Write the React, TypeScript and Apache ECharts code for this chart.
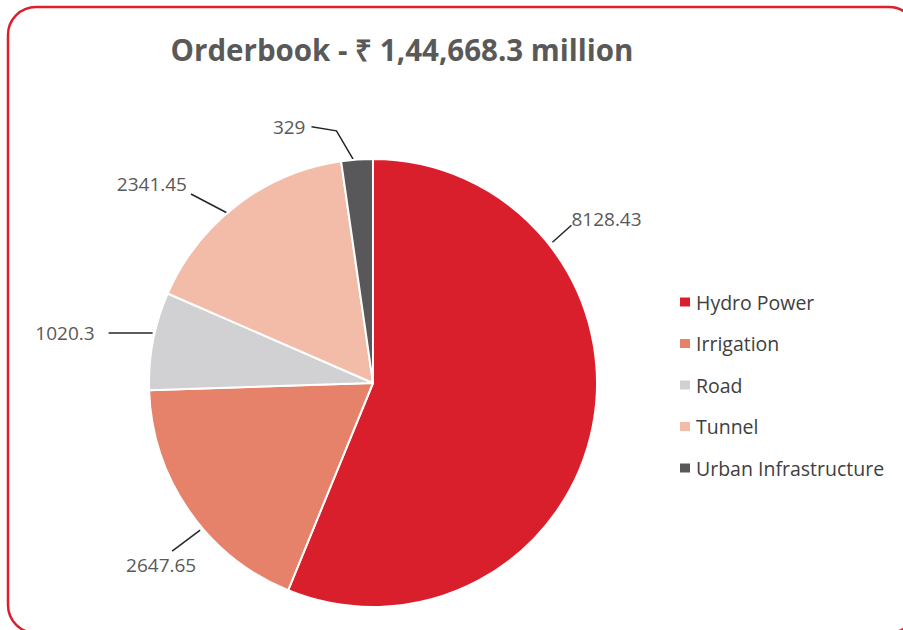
import React, { useEffect, useRef } from 'react';
import * as echarts from 'echarts';

const categories = ['Hydro Power', 'Irrigation', 'Road', 'Tunnel', 'Urban Infrastructure'];
const values = [8128.43, 2647.65, 1020.3, 2341.45, 329];
const colors = ['#da1f2c', '#e6816a', '#d1d1d3', '#f2bca9', '#58585a'];
const titleText = 'Orderbook - ₹ 1,44,668.3 million';

const CENTER = [373, 383];
const RADIUS = 224;
// label anchor angle (deg, clockwise from top), start radius, line segments, text placement
const LABEL_GEOM = [
  { angle: 51.9, r0: 228, segs: [[19, -17]], align: 'left', tx: 0, ty: -6 },
  { angle: 229.6, r0: 227, segs: [[-28, 21]], align: 'center', tx: -11, ty: 14 },
  { angle: 282.8, r0: 226, segs: [[-44, 0]], align: 'right', tx: -14, ty: 0 },
  { angle: 319.8, r0: 220, segs: [[-40, -21]], align: 'right', tx: -4, ty: -10 },
  { angle: 355, r0: 224, segs: [[-17, -29], [-25, -4]], align: 'right', tx: -6, ty: 0 },
];

export default function App() {
  const ref = useRef<HTMLDivElement>(null);
  useEffect(() => {
    const chart = echarts.init(ref.current!, null, { renderer: 'svg' });
    chart.setOption({
      animation: false,
      backgroundColor: '#ffffff',
      color: colors,
      title: {
        text: titleText,
        left: 402,
        textAlign: 'center',
        top: 34,
        padding: 0,
        textStyle: { fontFamily: 'Open Sans', fontWeight: 'bold', fontSize: 29.5, color: '#595959' },
      },
      legend: {
        orient: 'vertical',
        left: 678,
        top: 292,
        padding: 0,
        icon: 'rect',
        itemWidth: 12,
        itemHeight: 11,
        itemGap: 21.5,
        data: categories,
        textStyle: { fontFamily: 'Open Sans', fontSize: 19.5, lineHeight: 20, color: '#404040' },
      },
      graphic: [
        {
          type: 'rect',
          silent: true,
          shape: { x: 8, y: 7, width: 909, height: 626, r: 28 },
          style: { fill: 'none', stroke: '#dc1f2b', lineWidth: 2.5 },
        },
      ],
      series: [
        {
          type: 'pie',
          center: CENTER,
          radius: RADIUS,
          startAngle: 90,
          clockwise: true,
          avoidLabelOverlap: false,
          itemStyle: { borderColor: '#ffffff', borderWidth: 2 },
          label: {
            show: true,
            position: 'outside',
            formatter: (p: any) => String(p.value),
            fontFamily: 'Open Sans',
            fontSize: 19,
            color: '#595959',
          },
          labelLine: { show: true, lineStyle: { color: '#262626', width: 1.5 } },
          labelLayout: (params: any) => {
            const g = LABEL_GEOM[params.dataIndex];
            const a = (g.angle * Math.PI) / 180;
            let cur = [CENTER[0] + g.r0 * Math.sin(a), CENTER[1] - g.r0 * Math.cos(a)];
            const pts = [cur];
            for (const s of g.segs) {
              cur = [cur[0] + s[0], cur[1] + s[1]];
              pts.push(cur);
            }
            return {
              x: cur[0] + g.tx,
              y: cur[1] + g.ty,
              align: g.align,
              verticalAlign: 'middle',
              labelLinePoints: pts,
            };
          },
          data: categories.map((name, i) => ({ name, value: values[i] })),
        },
      ],
    });
    return () => chart.dispose();
  }, []);
  return (
    <div
      ref={ref}
      style={{ position: 'absolute', left: 0, top: 0, width: 903, height: 630, background: '#fff' }}
    />
  );
}
